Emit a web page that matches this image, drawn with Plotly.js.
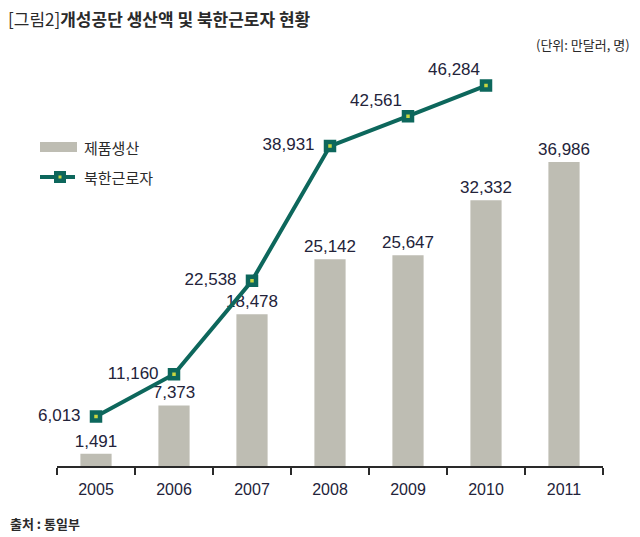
<!DOCTYPE html>
<html><head><meta charset="utf-8">
<script src="https://cdn.plot.ly/plotly-3.0.1.min.js"></script>
<style>body{margin:0;background:#fff}#c{width:640px;height:537px}</style>
</head><body><div id="c"></div>
<script>
const years = ['2005','2006','2007','2008','2009','2010','2011'];
const production = [1491, 7373, 18478, 25142, 25647, 32332, 36986];
const workerYears = ['2005','2006','2007','2008','2009','2010'];
const workers = [6013, 11160, 22538, 38931, 42561, 46284];
const workerLabelPos = ['middle left','middle left','middle left','middle left','top left','top left'];

const numFont = {family:'"Liberation Sans", Arial, sans-serif', size:17, color:'#23233a'};
const tickFont = {family:'"Liberation Sans", Arial, sans-serif', size:16, color:'#23233a'};
const kr = '"Noto Sans CJK KR", sans-serif';
const fmt = v => v.toLocaleString('en-US');

const teal = '#0d675c', yellow = '#c8d640', barCol = '#bebdb3';

const traces = [
  {type:'bar', x:years, y:production, name:'제품생산', marker:{color:barCol}, width:0.4,
   text:production.map(fmt), textposition:'outside', constraintext:'none', textfont:numFont, cliponaxis:false, hoverinfo:'skip'},
  {type:'scatter', mode:'lines+markers+text', x:workerYears, y:workers, name:'북한근로자',
   line:{color:teal, width:4}, marker:{symbol:'square', size:8, color:yellow, line:{color:teal, width:4.5}},
   text:workers.map((v, i) => fmt(v) + (workerLabelPos[i] === 'middle left' ? '\u00a0\u00a0' : '')),
   textposition:workerLabelPos, textfont:numFont, cliponaxis:false}
];

const layout = {
  width:640, height:537, showlegend:false,
  paper_bgcolor:'#fff', plot_bgcolor:'#fff',
  margin:{l:57, r:37, t:56, b:71},
  title:{text:'[그림2]<b>개성공단 생산액 및 북한근로자 현황</b>', x:0.0125, xanchor:'left', y:0.962, yanchor:'middle',
         font:{family:kr, size:17, color:'#2a2a2a'}},
  xaxis:{type:'category', range:[-0.5,6.5], showline:true, linecolor:'#2a2a2a', linewidth:1.5,
         ticks:'outside', ticklen:7, tickwidth:1.5, tickcolor:'#2a2a2a', tickson:'boundaries', ticklabelstandoff:8,
         showgrid:false, zeroline:false, tickfont:tickFont, fixedrange:true},
  yaxis:{range:[0,49885], visible:false, showgrid:false, zeroline:false, fixedrange:true},
  shapes:[
    {type:'rect', xref:'paper', yref:'paper', x0:-17/546, x1:20/546, y0:(466-142)/410, y1:(466-152)/410, fillcolor:barCol, line:{width:0}},
    {type:'line', xref:'paper', yref:'paper', x0:-17/546, x1:18/546, y0:(466-177)/410, y1:(466-177)/410, line:{color:teal, width:4}},
    {type:'rect', xref:'paper', yref:'paper', x0:-3/546, x1:9/546, y0:(466-171)/410, y1:(466-183)/410, fillcolor:teal, line:{width:0}},
    {type:'rect', xref:'paper', yref:'paper', x0:1.5/546, x1:4.5/546, y0:(466-175.5)/410, y1:(466-178.5)/410, fillcolor:yellow, line:{width:0}}
  ],
  annotations:[
    {text:'제품생산', xref:'paper', yref:'paper', x:25/546, y:(466-147)/410, xanchor:'left', yanchor:'middle', showarrow:false, font:{family:kr, size:15, color:'#2a2a2a'}},
    {text:'북한근로자', xref:'paper', yref:'paper', x:25/546, y:(466-177)/410, xanchor:'left', yanchor:'middle', showarrow:false, font:{family:kr, size:15, color:'#2a2a2a'}},
    {text:'(단위: 만달러, 명)', xref:'paper', yref:'paper', x:1+29/546, y:(466-45)/410, xanchor:'right', yanchor:'middle', showarrow:false, font:{family:kr, size:13, color:'#2a2a2a'}},
    {text:'<b>출처 : 통일부</b>', xref:'paper', yref:'paper', x:-49/546, y:(466-523)/410, xanchor:'left', yanchor:'middle', showarrow:false, font:{family:kr, size:13, color:'#2a2a2a'}}
  ]
};
Plotly.newPlot('c', traces, layout, {displayModeBar:false, staticPlot:true});
</script></body></html>
